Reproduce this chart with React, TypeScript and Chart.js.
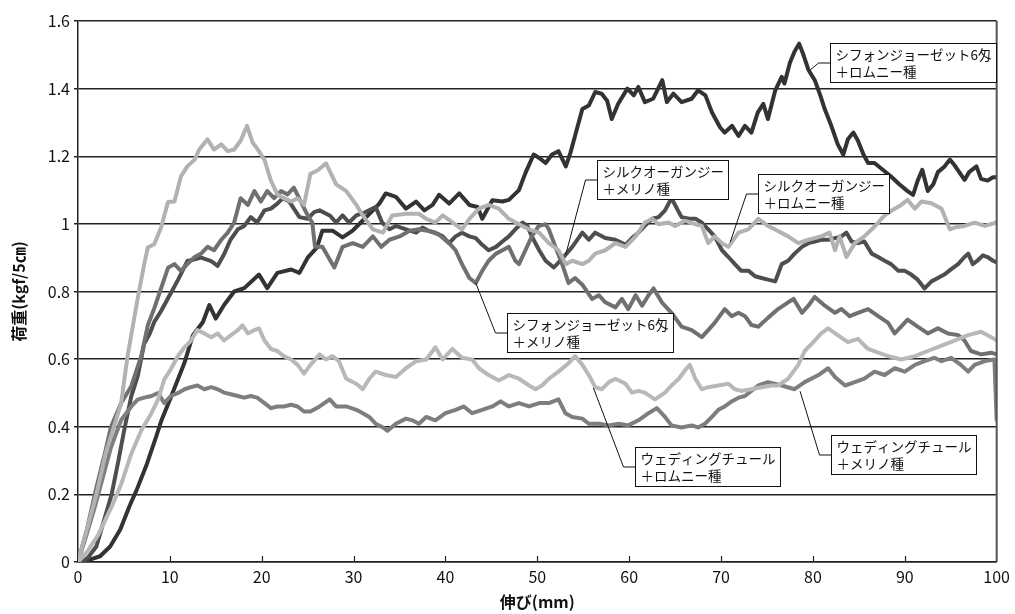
import React, { useEffect, useRef } from "react";
import { Chart, registerables } from "chart.js";

Chart.register(...registerables);

// シフォンジョーゼット6匁+ロムニー種
const aX = [0,1.3,2.4,3.5,4.6,5.6,6.4,7.5,8.5,9.1,10,11.6,12.5,13.6,14.3,15,15.9,17,18.1,19.7,20.6,21.7,23.2,24.1,25,26,26.6,27.7,28.8,29.9,31,32.1,32.8,33.5,34.6,35.7,36.8,37.7,38.6,39.3,40.4,41.5,42.6,43.5,44,45.1,46.2,46.9,48,48.7,49.6,50.2,50.9,51.6,52.3,53.1,53.6,54.1,54.9,55.6,56.3,57,57.6,58.1,58.8,59.8,60.5,61,61.7,62.6,63.6,64.1,64.8,65.7,66.8,67.5,68.3,69,69.9,70.4,71.2,71.9,72.6,73.3,74,74.6,75.1,75.9,76.6,76.9,77.5,78,78.5,79,79.5,80.2,80.8,81.3,82,82.7,83.3,83.8,84.4,84.9,85.5,86,86.7,87.6,88.5,89.4,90.3,90.9,91.4,91.9,92.5,93.1,93.6,94.3,94.9,95.4,96,96.5,97,97.8,98.3,99,99.6,100];
const aY = [0,0.007,0.017,0.046,0.096,0.165,0.214,0.29,0.37,0.42,0.48,0.59,0.67,0.71,0.76,0.72,0.76,0.8,0.81,0.85,0.81,0.855,0.865,0.855,0.9,0.93,0.98,0.98,0.96,0.98,1.01,1.04,1.06,1.09,1.08,1.045,1.066,1.04,1.056,1.086,1.06,1.09,1.056,1.05,1.015,1.07,1.066,1.071,1.1,1.15,1.205,1.195,1.18,1.205,1.215,1.17,1.21,1.26,1.34,1.35,1.39,1.385,1.364,1.31,1.355,1.4,1.38,1.405,1.36,1.37,1.425,1.36,1.385,1.36,1.37,1.395,1.38,1.33,1.285,1.27,1.29,1.26,1.29,1.27,1.33,1.355,1.31,1.395,1.435,1.415,1.477,1.51,1.533,1.497,1.456,1.425,1.38,1.338,1.29,1.235,1.205,1.25,1.27,1.246,1.205,1.18,1.18,1.16,1.14,1.117,1.097,1.086,1.128,1.16,1.097,1.117,1.153,1.169,1.19,1.174,1.15,1.13,1.153,1.17,1.133,1.128,1.138,1.138];

// シルクオーガンジー+メリノ種
const bX = [0,1,2,2.8,3.66,4.4,5.1,5.8,6.5,7.2,7.8,8.3,9,9.8,10.9,11.9,12.7,13.4,14.5,15.2,15.9,16.6,17.4,18.1,18.8,19.5,20.3,21,21.7,22.3,23,23.5,24.1,25,25.7,26.3,27.4,28.1,28.8,29.5,30.3,31.3,32.4,33.1,33.9,34.6,35.7,36.8,37.5,38.2,38.9,39.7,40.4,41.1,41.8,42.6,43.3,44,44.7,45.5,46.2,46.9,47.6,48.4,48.9,49.4,50.2,50.9,51.8,52.8,53.8,54.9,55.6,56.3,57.4,58.5,59.6,60.3,61,61.7,62.5,63.2,63.9,64.6,65.2,65.7,66.5,67.2,67.9,68.6,69.3,70.1,70.8,71.5,72.2,73,73.7,74.4,75.1,75.9,76.6,77.3,78,78.8,79.5,80.2,80.9,81.7,82.4,83.1,83.65,84.2,84.9,85.6,86.4,87.1,87.8,88.5,89.3,90,90.7,91.4,92.15,92.9,93.6,94.3,95.05,95.8,96.5,96.9,97.4,97.9,98.5,99,99.6,100];
const bY = [0,0.01,0.046,0.12,0.2,0.3,0.4,0.49,0.55,0.645,0.675,0.71,0.74,0.78,0.835,0.89,0.895,0.9,0.89,0.876,0.91,0.953,0.984,0.994,1.02,1.004,1.04,1.045,1.06,1.076,1.066,1.045,1.02,1.015,1.035,1.04,1.025,1.004,1.025,1.004,1.025,1.035,1.05,1.004,0.984,0.994,0.984,0.974,0.989,0.979,0.974,0.963,0.943,0.963,0.974,0.963,0.958,0.938,0.922,0.932,0.948,0.963,0.984,1.004,0.994,0.963,0.922,0.891,0.871,0.9,0.932,0.974,0.953,0.974,0.958,0.953,0.938,0.958,0.974,0.994,1.015,1.02,1.04,1.076,1.045,1.02,1.015,1.015,1.004,0.984,0.963,0.922,0.902,0.881,0.861,0.861,0.845,0.84,0.835,0.83,0.881,0.891,0.912,0.932,0.943,0.948,0.953,0.953,0.958,0.963,0.974,0.948,0.943,0.948,0.912,0.902,0.891,0.881,0.861,0.861,0.85,0.835,0.809,0.83,0.84,0.85,0.866,0.881,0.902,0.912,0.881,0.891,0.907,0.902,0.891,0.886];

// シフォンジョーゼット6匁+メリノ種
const cX = [0,1,2,3,3.6,4.7,5.8,6.9,7.6,8.3,9.05,9.8,10.5,11.2,11.9,12.7,13.4,14.1,14.8,15.6,16.3,17,17.7,18.5,19.2,19.9,20.6,21.35,22.1,22.8,23.5,24.25,25,25.5,25.8,26.6,27.9,28.8,29.9,31,32.1,33,33.9,35,36.05,37.1,38.2,39.3,40.4,41.1,41.8,42.6,43.3,44,44.7,45.5,46.2,46.9,47.6,48,48.7,49.4,50.16,50.9,51.25,51.97,52.7,53.4,54.1,54.9,55.95,56.7,57.4,58.5,59.2,59.9,60.7,61.4,62.1,62.65,63.55,64.6,65.7,66.8,67.9,68.6,69.3,70.4,71.15,71.9,72.6,73.3,74.05,75.1,76.2,77.3,77.9,78.8,79.5,80.2,81.3,82.4,83.1,84,84.9,86,87.1,88.2,88.9,89.6,90.3,91.4,92.5,93.6,94.7,95.8,96.5,97.2,98.3,99.4,100];
const cY = [0,0.1,0.22,0.33,0.4,0.47,0.52,0.61,0.7,0.75,0.81,0.87,0.881,0.861,0.881,0.902,0.912,0.932,0.922,0.953,0.974,1.004,1.076,1.056,1.097,1.066,1.097,1.076,1.097,1.087,1.107,1.066,1.025,1.004,0.932,0.932,0.871,0.932,0.943,0.932,0.963,0.932,0.953,0.963,0.979,0.984,0.979,0.968,0.943,0.922,0.881,0.84,0.825,0.861,0.891,0.912,0.922,0.932,0.891,0.881,0.922,0.963,0.994,0.999,0.984,0.932,0.881,0.825,0.84,0.82,0.778,0.789,0.768,0.753,0.778,0.748,0.789,0.758,0.789,0.809,0.768,0.737,0.696,0.686,0.665,0.686,0.707,0.748,0.727,0.737,0.727,0.701,0.696,0.722,0.748,0.768,0.778,0.737,0.758,0.784,0.758,0.737,0.748,0.727,0.737,0.748,0.727,0.707,0.676,0.696,0.717,0.696,0.676,0.691,0.676,0.671,0.655,0.624,0.614,0.619,0.614];

// シルクオーガンジー+ロムニー種
const dX = [0,1,2,3,4.7,5.4,6.5,7.2,7.6,8.3,9.05,9.8,10.5,11.2,11.9,12.7,13.2,14.1,14.8,15.6,16.3,17,17.7,18.4,19,19.7,20.3,21,21.7,22.4,23.2,23.9,24.6,25.3,26.06,27,28.1,29.2,30.3,31,32.1,33.2,34.2,35.7,37.1,37.9,38.9,39.7,40.8,41.8,42.6,43.65,44.7,45.8,46.9,48,49.1,50.2,51.25,52.3,53.1,53.8,54.9,55.6,56.3,57.4,58.5,59.6,60.7,61.7,62.5,63.2,64.3,65,66.1,67.2,67.9,68.6,69.3,70.1,70.8,71.9,72.96,74.05,75.1,76.2,77.3,78.4,79.5,80.9,81.8,82.4,82.9,83.65,84.55,85.6,86.4,87.1,87.8,88.9,89.6,90.3,91.1,91.8,92.9,94,94.9,95.4,96.5,97.6,98.7,100];
const dY = [0,0.1,0.2,0.32,0.47,0.61,0.78,0.88,0.93,0.94,0.99,1.065,1.066,1.14,1.17,1.19,1.22,1.25,1.22,1.235,1.215,1.22,1.246,1.29,1.241,1.215,1.189,1.128,1.087,1.076,1.066,1.076,1.056,1.148,1.158,1.179,1.117,1.097,1.056,1.025,0.984,0.974,1.025,1.03,1.03,1.015,1.004,1.025,1.004,0.984,1.015,1.045,1.056,1.045,1.015,0.999,0.984,0.974,0.943,0.922,0.881,0.891,0.881,0.891,0.912,0.922,0.943,0.932,0.963,1.004,1.015,0.999,1.004,0.994,1.009,0.999,0.994,0.943,0.963,0.943,0.932,0.974,0.984,1.015,0.994,0.979,0.963,0.943,0.953,0.963,0.974,0.922,0.963,0.902,0.943,0.963,0.984,1.004,1.025,1.045,1.056,1.071,1.045,1.066,1.061,1.045,0.984,0.989,0.994,1.004,0.994,1.004];

// ウェディングチュール+メリノ種
const eX = [0,0.7,1.8,2.7,3.6,4.7,5.8,6.5,7.2,8,8.7,9.4,10.1,10.9,11.6,12.3,13,13.75,14.5,15.2,15.9,16.65,17.4,18.1,18.8,19.5,20.3,21,21.7,22.4,23.2,23.9,24.6,25.3,26.3,27.4,28.1,29.2,30.3,31,31.7,32.4,33.2,33.7,34.6,35.7,36.4,37.1,37.9,38.9,40,41.1,42,42.9,44,45.1,46,46.9,48,49.1,50.2,51.25,52.3,53.05,53.8,54.9,55.6,56.7,57.8,58.85,59.9,61,62.1,63,63.9,64.6,65.7,66.8,67.5,68.25,69,69.7,70.4,71.15,71.9,72.6,73.3,74.05,75.1,76.6,78,79.1,80.6,81.65,82.4,83.5,84.55,85.6,86.7,87.8,88.9,90,91.1,92.15,93.2,94,95.05,96.1,96.9,97.6,98.7,99.75,100];
const eY = [0,0.06,0.16,0.25,0.34,0.42,0.46,0.48,0.486,0.491,0.5,0.47,0.491,0.5,0.511,0.517,0.522,0.511,0.517,0.511,0.501,0.496,0.491,0.486,0.491,0.486,0.47,0.455,0.46,0.46,0.465,0.46,0.445,0.445,0.46,0.481,0.46,0.46,0.45,0.44,0.429,0.409,0.398,0.388,0.409,0.424,0.419,0.409,0.429,0.419,0.44,0.45,0.46,0.44,0.45,0.46,0.475,0.46,0.47,0.46,0.47,0.47,0.481,0.44,0.429,0.424,0.409,0.409,0.404,0.409,0.404,0.419,0.44,0.455,0.429,0.404,0.398,0.404,0.398,0.409,0.429,0.45,0.46,0.475,0.486,0.491,0.506,0.522,0.532,0.522,0.511,0.532,0.553,0.573,0.547,0.522,0.532,0.542,0.563,0.553,0.573,0.563,0.583,0.594,0.604,0.594,0.604,0.583,0.563,0.583,0.594,0.599,0.42];

// ウェディングチュール+ロムニー種
const fX = [0,1,2.2,3.6,4.7,5.8,6.9,8,8.7,9.4,10.1,10.9,11.6,12.3,13,13.75,14.5,15.2,15.9,16.65,17.4,17.9,18.5,19.2,19.7,20.3,21,21.7,22.4,23.2,23.9,24.6,25.3,26.3,27,27.7,28.4,29.2,30.3,31,31.7,32.4,33.5,34.6,35.7,36.8,37.9,38.9,39.7,40.75,41.8,42.9,43.65,44.7,45.8,46.9,48,49.1,49.8,50.5,51.25,52.3,53.4,54.1,54.9,55.6,56.3,57,57.8,58.5,59.6,60.3,61,61.7,62.8,63.9,64.6,65.4,66.1,66.6,67.2,67.9,68.6,69.7,70.8,71.5,72.2,73.3,74.4,75.5,76.2,77.3,78.4,79.1,80.2,80.9,81.65,82.7,83.8,84.9,86,87.1,88.2,89.6,91.1,92.5,94,95.4,96.9,98.3,99.4,100];
const fY = [0,0.03,0.08,0.16,0.23,0.32,0.39,0.44,0.48,0.54,0.57,0.61,0.635,0.655,0.686,0.676,0.665,0.676,0.655,0.671,0.686,0.7,0.676,0.686,0.691,0.655,0.63,0.624,0.609,0.599,0.583,0.557,0.583,0.614,0.599,0.609,0.594,0.542,0.527,0.511,0.542,0.563,0.553,0.547,0.573,0.594,0.599,0.635,0.599,0.63,0.604,0.599,0.573,0.553,0.537,0.553,0.542,0.522,0.511,0.522,0.542,0.563,0.588,0.609,0.583,0.553,0.517,0.511,0.532,0.542,0.527,0.501,0.506,0.501,0.481,0.501,0.522,0.542,0.568,0.583,0.542,0.511,0.517,0.522,0.527,0.511,0.506,0.511,0.517,0.522,0.522,0.542,0.583,0.624,0.655,0.676,0.691,0.671,0.65,0.66,0.63,0.619,0.609,0.599,0.609,0.624,0.64,0.655,0.671,0.681,0.665,0.655];

const seriesNames = [
  "シフォンジョーゼット6匁＋ロムニー種",
  "シルクオーガンジー＋メリノ種",
  "シフォンジョーゼット6匁＋メリノ種",
  "シルクオーガンジー＋ロムニー種",
  "ウェディングチュール＋メリノ種",
  "ウェディングチュール＋ロムニー種",
];
const seriesColors = ["#333333", "#4e4e4e", "#707070", "#b2b2b2", "#7e7e7e", "#b8b8b8"];

const xTitle = "伸び(mm)";
const yTitle = "荷重(kgf/5㎝)";

// label boxes
const labelLines1 = ["シフォンジョーゼット6匁", "シルクオーガンジー", "シルクオーガンジー", "シフォンジョーゼット6匁", "ウェディングチュール", "ウェディングチュール"];
const labelLines2 = ["＋ロムニー種", "＋メリノ種", "＋ロムニー種", "＋メリノ種", "＋ロムニー種", "＋メリノ種"];
const labelAnchorX = [79.7, 53.1, 71.0, 43.3, 56.1, 78.6];
const labelAnchorY = [1.455, 0.91, 0.946, 0.825, 0.515, 0.505];
const labelBoxX = [81.9, 56.5, 74.05, 46.7, 60.6, 82.0];
const labelBoxY = [1.535, 1.19, 1.148, 0.735, 0.339, 0.375];

const FONT = "'Noto Sans CJK JP', 'Noto Sans', sans-serif";

const mk = (xs: number[], ys: number[]) => xs.map((x, i) => ({ x, y: ys[i] }));

const decorPlugin = {
  id: "decor",
  afterDatasetsDraw(chart: any) {
    const { ctx, chartArea, scales } = chart;
    const xs = scales.x;
    const ys = scales.y;
    ctx.save();
    ctx.strokeStyle = "#222";
    ctx.lineWidth = 1.2;
    for (let v = 10; v < 100; v += 10) {
      const px = Math.round(xs.getPixelForValue(v)) + 0.5;
      ctx.beginPath();
      ctx.moveTo(px, chartArea.bottom);
      ctx.lineTo(px, chartArea.bottom - 6);
      ctx.stroke();
    }
    ctx.strokeStyle = "#555";
    ctx.lineWidth = 2;
    ctx.beginPath();
    ctx.moveTo(chartArea.right, chartArea.top);
    ctx.lineTo(chartArea.right, chartArea.bottom);
    ctx.stroke();

    ctx.font = `13.5px ${FONT}`;
    ctx.textBaseline = "middle";
    ctx.textAlign = "left";
    for (let i = 0; i < labelLines1.length; i++) {
      const bx = Math.round(xs.getPixelForValue(labelBoxX[i])) + 0.5;
      const by = Math.round(ys.getPixelForValue(labelBoxY[i])) + 0.5;
      const w1 = ctx.measureText(labelLines1[i]).width;
      const w2 = ctx.measureText(labelLines2[i]).width;
      const bw = Math.round(Math.max(w1, w2) + 10);
      const bh = 39;
      const ax = xs.getPixelForValue(labelAnchorX[i]);
      const ay = ys.getPixelForValue(labelAnchorY[i]);
      const midY = by + bh / 2;
      ctx.strokeStyle = "#111";
      ctx.lineWidth = 1;
      ctx.beginPath();
      ctx.moveTo(bx, midY);
      ctx.lineTo(bx - 12, midY);
      ctx.lineTo(ax, ay);
      ctx.stroke();
      ctx.fillStyle = "#fff";
      ctx.fillRect(bx, by, bw, bh);
      ctx.strokeRect(bx, by, bw, bh);
      ctx.fillStyle = "#111";
      ctx.fillText(labelLines1[i], bx + 5, by + 11);
      ctx.fillText(labelLines2[i], bx + 5, by + 28);
    }
    ctx.restore();
  },
};

export default function App() {
  const ref = useRef<HTMLCanvasElement | null>(null);
  useEffect(() => {
    if (!ref.current) return;
    const all = [
      [aX, aY], [bX, bY], [cX, cY], [dX, dY], [eX, eY], [fX, fY],
    ];
    const order = [5, 3, 4, 2, 1, 0];
    const datasets = order.map((i) => ({
      label: seriesNames[i],
      data: mk(all[i][0], all[i][1]),
      borderColor: seriesColors[i],
      backgroundColor: seriesColors[i],
      borderWidth: 4,
      pointRadius: 0,
      tension: 0,
      fill: false,
      borderJoinStyle: "round" as const,
      borderCapStyle: "round" as const,
    }));
    const chart = new Chart(ref.current, {
      type: "line",
      data: { datasets },
      plugins: [decorPlugin],
      options: {
        animation: false,
        responsive: false,
        maintainAspectRatio: false,
        layout: { padding: { left: 9, right: 16, top: 21, bottom: 2 } },
        plugins: { legend: { display: false }, tooltip: { enabled: false } },
        scales: {
          x: {
            type: "linear",
            min: 0,
            max: 100,
            ticks: { stepSize: 10, color: "#111", font: { family: FONT, size: 16 }, padding: 5, maxRotation: 0 },
            grid: { display: false, drawTicks: false },
            border: { display: true, color: "#222", width: 1.5 },
            title: { display: true, text: xTitle, color: "#111", font: { family: FONT, size: 16, weight: "bold" }, padding: 0 },
            afterFit: (s: any) => { s.height = 50; },
          },
          y: {
            type: "linear",
            min: 0,
            max: 1.6,
            ticks: {
              stepSize: 0.2,
              color: "#111",
              font: { family: FONT, size: 16 },
              padding: 4,
              callback: (v: any) => String(Number(Number(v).toFixed(1))),
            },
            grid: { color: "#222", lineWidth: 1.5, tickLength: 4, drawTicks: true },
            border: { display: true, color: "#222", width: 1.5 },
            title: { display: true, text: yTitle, color: "#111", font: { family: FONT, size: 16, weight: "bold" }, padding: 0 },
            afterFit: (s: any) => { s.width = 69; },
          },
        },
      },
    });
    return () => chart.destroy();
  }, []);
  return (
    <div style={{ position: "fixed", left: 0, top: 0, width: 1015, height: 614, background: "#fff" }}>
      <canvas ref={ref} width={1015} height={614} style={{ display: "block" }} />
    </div>
  );
}
